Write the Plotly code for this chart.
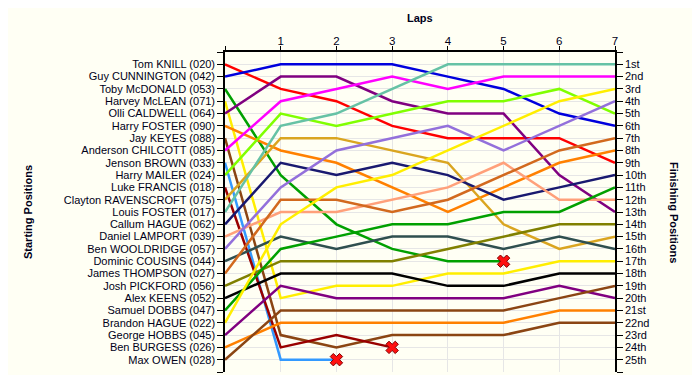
import plotly.graph_objects as go

laps = [0, 1, 2, 3, 4, 5, 6, 7]
lap_ticks = [0, 1, 2, 3, 4, 5, 6, 7]
lap_ticktext = ["", "1", "2", "3", "4", "5", "6", "7"]

drivers = [
    "Tom KNILL (020)", "Guy CUNNINGTON (042)", "Toby McDONALD (053)", "Harvey McLEAN (071)",
    "Olli CALDWELL (064)", "Harry FOSTER (090)", "Jay KEYES (088)", "Anderson CHILCOTT (085)",
    "Jenson BROWN (033)", "Harry MAILER (024)", "Luke FRANCIS (018)", "Clayton RAVENSCROFT (075)",
    "Louis FOSTER (017)", "Callum HAGUE (062)", "Daniel LAMPORT (039)", "Ben WOOLDRIDGE (057)",
    "Dominic COUSINS (044)", "James THOMPSON (027)", "Josh PICKFORD (056)", "Alex KEENS (052)",
    "Samuel DOBBS (047)", "Brandon HAGUE (022)", "George HOBBS (045)", "Ben BURGESS (026)",
    "Max OWEN (028)",
]

# position of each driver at each lap (lap 0 = grid); shorter lists = retired
pos_tom_knill = [1, 3, 4, 6, 7, 7, 7, 9]
pos_guy_cunnington = [2, 1, 1, 1, 2, 3, 5, 6]
pos_toby_mcdonald = [3, 10, 14, 16, 17, 17]
pos_harvey_mclean = [4, 20, 19, 19, 18, 18, 17, 17]
pos_olli_caldwell = [5, 2, 2, 4, 5, 5, 10, 13]
pos_harry_foster = [6, 8, 9, 11, 13, 11, 9, 8]
pos_jay_keyes = [7, 23, 24, 23, 23, 23, 22, 22]
pos_anderson_chilcott = [8, 4, 3, 2, 3, 2, 2, 2]
pos_jenson_brown = [9, 25, 25]
pos_harry_mailer = [10, 5, 6, 5, 4, 4, 3, 5]
pos_luke_francis = [11, 24, 23, 24]
pos_clayton_ravenscroft = [12, 7, 7, 8, 9, 14, 16, 15]
pos_louis_foster = [13, 6, 5, 3, 1, 1, 1, 1]
pos_callum_hague = [14, 9, 10, 9, 10, 12, 11, 10]
pos_daniel_lamport = [15, 13, 13, 12, 11, 9, 12, 12]
pos_ben_wooldridge = [16, 11, 8, 7, 6, 8, 6, 4]
pos_dominic_cousins = [17, 15, 16, 15, 15, 16, 15, 16]
pos_james_thompson = [18, 12, 12, 13, 12, 10, 8, 7]
pos_josh_pickford = [19, 17, 17, 17, 16, 15, 14, 14]
pos_alex_keens = [20, 18, 18, 18, 19, 19, 18, 18]
pos_samuel_dobbs = [21, 16, 15, 14, 14, 13, 13, 11]
pos_brandon_hague = [22, 14, 11, 10, 8, 6, 4, 3]
pos_george_hobbs = [23, 19, 20, 20, 20, 20, 19, 20]
pos_ben_burgess = [24, 22, 22, 22, 22, 22, 21, 21]
pos_max_owen = [25, 21, 21, 21, 21, 21, 20, 19]

positions = [
    pos_tom_knill, pos_guy_cunnington, pos_toby_mcdonald, pos_harvey_mclean,
    pos_olli_caldwell, pos_harry_foster, pos_jay_keyes, pos_anderson_chilcott,
    pos_jenson_brown, pos_harry_mailer, pos_luke_francis, pos_clayton_ravenscroft,
    pos_louis_foster, pos_callum_hague, pos_daniel_lamport, pos_ben_wooldridge,
    pos_dominic_cousins, pos_james_thompson, pos_josh_pickford, pos_alex_keens,
    pos_samuel_dobbs, pos_brandon_hague, pos_george_hobbs, pos_ben_burgess,
    pos_max_owen,
]

colors = [
    "#FF0000", "#0000DD", "#00A000", "#FFEE00", "#800080", "#FF8000", "#8B4513", "#FF00FF",
    "#3399FF", "#80FF00", "#990000", "#DAA520", "#66C2A5", "#191970", "#FFA07A", "#9370DB",
    "#2F4F4F", "#D2691E", "#808000", "#000000", "#00A000", "#FFEE00", "#800080", "#FF8000",
    "#8B4513",
]

start_ticks = list(range(0, 27))
start_ticktext = [""] + drivers + [""]

def ordinal(n):
    if 10 <= n % 100 <= 20:
        suf = "th"
    else:
        suf = {1: "st", 2: "nd", 3: "rd"}.get(n % 10, "th")
    return f"{n}{suf}"

finish_ticktext = [""] + [ordinal(i) for i in range(1, 26)] + [""]

bg = "#FFFFF4"
grid = "#E6E6E6"
txt = "#000018"
font_family = "Liberation Sans, Arial, sans-serif"

fig = go.Figure()
for name, pos, col in zip(drivers, positions, colors):
    x = laps[:len(pos)]
    fig.add_trace(go.Scatter(x=x, y=pos, mode="lines", name=name,
                             line=dict(color=col, width=2.5), showlegend=False,
                             hoverinfo="name+y"))
    if len(pos) < len(laps):
        fig.add_trace(go.Scatter(x=[x[-1]], y=[pos[-1]], mode="markers", showlegend=False,
                                 marker=dict(symbol="x", size=11, color="#FF1010",
                                             line=dict(color="#800000", width=1)),
                                 hoverinfo="skip"))

# invisible trace to activate the right-hand axis
fig.add_trace(go.Scatter(x=[0], y=[1], yaxis="y2", mode="markers",
                         marker=dict(opacity=0), showlegend=False, hoverinfo="skip"))

fig.update_layout(
    width=692, height=367,
    margin=dict(l=217, r=85, t=44, b=3, autoexpand=False),
    paper_bgcolor=bg, plot_bgcolor=bg,
    font=dict(family=font_family, size=11, color=txt),
    xaxis=dict(side="top", range=[0, 7], tickvals=lap_ticks, ticktext=lap_ticktext,
               automargin=False, ticklabelstandoff=-3,
               showgrid=True, gridcolor=grid, gridwidth=1, zeroline=False,
               showline=True, linecolor="black", linewidth=1.5,
               ticks="outside", ticklen=4, tickcolor="black",
               tickfont=dict(size=11.5, color=txt)),
    yaxis=dict(range=[26, 0], tickvals=start_ticks, ticktext=start_ticktext,
               automargin=False,
               showgrid=True, gridcolor=grid, gridwidth=1, zeroline=False,
               showline=True, linecolor="black", linewidth=1.5,
               ticks="outside", ticklen=6, tickcolor="black",
               tickfont=dict(size=11, color=txt)),
    yaxis2=dict(range=[26, 0], tickvals=start_ticks, ticktext=finish_ticktext,
                automargin=False,
                overlaying="y", side="right", showgrid=False, zeroline=False,
                showline=True, linecolor="black", linewidth=1.5,
                ticks="outside", ticklen=6, tickcolor="black",
                tickfont=dict(size=11, color=txt)),
    annotations=[
        dict(text="<b>Laps</b>", xref="paper", yref="paper", x=0.5, y=1, yshift=34,
             showarrow=False, font=dict(size=11, color=txt), xanchor="center", yanchor="middle"),
        dict(text="<b>Starting Positions</b>", xref="paper", yref="paper", x=0, y=0.5,
             xshift=-197, showarrow=False, textangle=-90, font=dict(size=11, color=txt),
             xanchor="center", yanchor="middle"),
        dict(text="<b>Finishing Positions</b>", xref="paper", yref="paper", x=1, y=0.5,
             xshift=59, showarrow=False, textangle=90, font=dict(size=11, color=txt),
             xanchor="center", yanchor="middle"),
    ],
)

fig.write_html("out.html")
